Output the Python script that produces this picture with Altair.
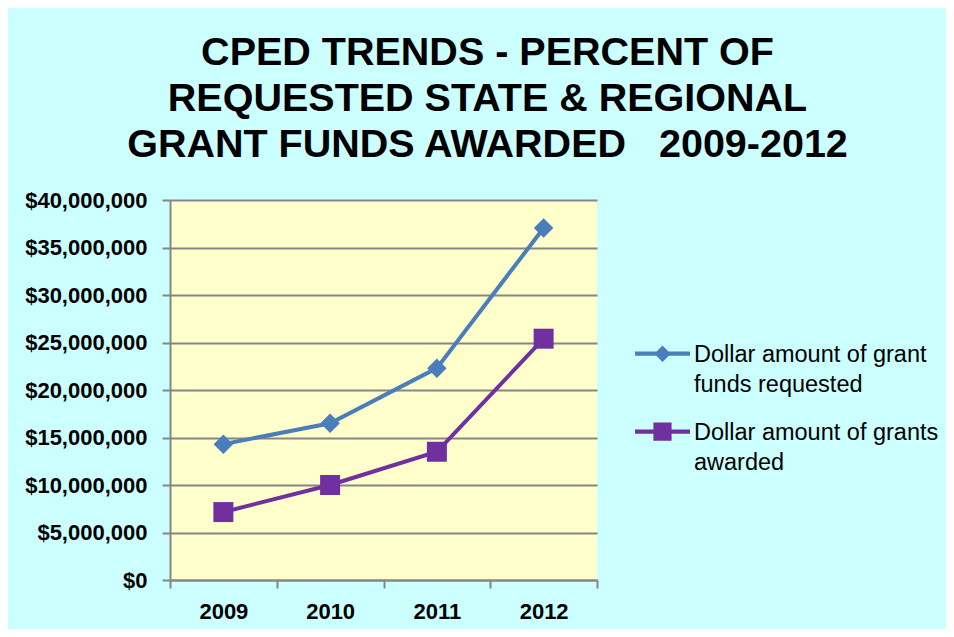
import altair as alt
import pandas as pd

years = ["2009", "2010", "2011", "2012"]
series_names = ["Dollar amount of grant funds requested", "Dollar amount of grants awarded"]
requested = [14300000, 16500000, 22300000, 37050000]
awarded = [7150000, 10000000, 13500000, 25400000]
legend_lines = [["Dollar amount of grant", "funds requested"], ["Dollar amount of grants", "awarded"]]
title_lines = ["CPED TRENDS - PERCENT OF", "REQUESTED STATE & REGIONAL", "GRANT FUNDS AWARDED\u00a0\u00a0\u00a02009-2012"]
y_ticks = [0, 5000000, 10000000, 15000000, 20000000, 25000000, 30000000, 35000000, 40000000]

colors = ["#4A7EBB", "#7030A0"]

rows = []
for y, v in zip(years, requested):
    rows.append({"year": y, "series": series_names[0], "s2": series_names[0], "value": v})
for y, v in zip(years, awarded):
    rows.append({"year": y, "series": series_names[1], "s2": series_names[1], "value": v})
df = pd.DataFrame(rows)

FONT = "Liberation Sans, Arial, sans-serif"

# legend symbol: line segment with the series marker
shift = -0.03
def rect(x0, x1, y0, y1):
    return f"M{x0},{y0 + shift}L{x1},{y0 + shift}L{x1},{y1 + shift}L{x0},{y1 + shift}Z"
line_part = rect(-1, 1, -0.075, 0.075)
diamond_part = f"M0,{-0.3 + shift}L0.3,{shift}L0,{0.3 + shift}L-0.3,{shift}Z"
square_part = rect(-0.33, 0.33, -0.33, 0.33)
legend_paths = [line_part + " " + diamond_part, line_part + " " + square_part]

label_expr = (
    f"datum.label == '{series_names[0]}' ? {legend_lines[0]} : {legend_lines[1]}"
)

legend_kw = dict(
    title=None,
    orient="none",
    legendX=465,
    legendY=127,
    symbolSize=3025,
    symbolStrokeWidth=0,
    symbolOpacity=1,
    labelFont=FONT,
    labelFontSize=23.5,
    labelColor="black",
    labelLimit=500,
    rowPadding=9,
)
legendA = alt.Legend(labelExpr=label_expr, **legend_kw)
legendB = alt.Legend(**legend_kw)

x_enc = alt.X(
    "year:O",
    bandPosition=0.5,
    scale=alt.Scale(type="band", paddingInner=0, paddingOuter=0),
    axis=alt.Axis(
        title=None,
        tickBand="extent",
        labelAngle=0,
        labelFont=FONT,
        labelFontSize=22,
        labelFontWeight="bold",
        labelColor="black",
        labelPadding=13,
        tickSize=8,
        tickColor="#868686",
        tickWidth=2,
        domainColor="#868686",
        domainWidth=2,
        grid=False,
    ),
)
y_enc = alt.Y(
    "value:Q",
    scale=alt.Scale(domain=[0, 40000000], nice=False),
    axis=alt.Axis(
        title=None,
        values=y_ticks,
        format="$,.0f",
        labelFont=FONT,
        labelFontSize=22,
        labelFontWeight="bold",
        labelColor="black",
        labelPadding=15,
        tickSize=8,
        tickColor="#868686",
        tickWidth=2,
        domainColor="#868686",
        domainWidth=2,
        gridColor="#868686",
        gridWidth=2,
    ),
)
color_scale = alt.Scale(domain=series_names, range=colors)

base = alt.Chart(df)

lines = base.mark_line(strokeWidth=4).encode(
    x=x_enc,
    y=y_enc,
    color=alt.Color("series:N", scale=color_scale, legend=legendA),
)

pts_req = base.transform_filter(alt.datum.series == series_names[0]).mark_point(
    shape="diamond", filled=True, size=380, opacity=1
).encode(
    x=x_enc, y=y_enc,
    color=alt.Color("series:N", scale=color_scale, legend=None),
)

pts_awd = base.transform_filter(alt.datum.series == series_names[1]).mark_point(
    shape="square", filled=True, size=400, opacity=1
).encode(
    x=x_enc, y=y_enc,
    color=alt.Color("series:N", scale=color_scale, legend=None),
)

legend_layer = base.mark_point(
    filled=True, opacity=0
).encode(
    x=x_enc, y=y_enc,
    shape=alt.Shape("s2:N", scale=alt.Scale(domain=series_names, range=legend_paths), legend=legendB),
)

chart = alt.layer(lines, pts_req, pts_awd, legend_layer).properties(
    width=427,
    height=380,
    title=alt.Title(
        text=title_lines,
        font=FONT,
        fontSize=39.5,
        fontWeight="bold",
        color="black",
        lineHeight=46,
        anchor="middle",
        frame="group",
        dx=104,
        offset=24,
    ),
    autosize=alt.AutoSizeParams(type="none"),
    padding={"left": 162, "top": 192, "right": 349, "bottom": 49},
).configure(
    background="#CCFFFF",
    style={"guide-label": {"lineHeight": 30}},
).configure_view(
    fill="#FFFFCC",
    stroke=None,
)

chart.save("out.html", embed_options={"renderer": "svg", "actions": False})
